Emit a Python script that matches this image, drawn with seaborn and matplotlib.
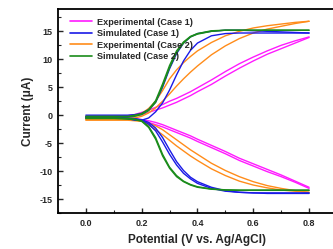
import numpy as np
import pandas as pd
import matplotlib
matplotlib.use("Agg")
import matplotlib.pyplot as plt
from matplotlib.ticker import MultipleLocator
from matplotlib.lines import Line2D
import seaborn as sns

# Potential grid (V vs. Ag/AgCl)
V = [0.0, 0.05, 0.1, 0.15, 0.175, 0.2, 0.225, 0.25, 0.275, 0.3, 0.325, 0.35,
     0.375, 0.4, 0.45, 0.5, 0.55, 0.6, 0.65, 0.7, 0.75, 0.8]

# Experimental (Case 1)
exp1_ox_a = [-0.2, -0.2, -0.2, -0.1, 0.1, 0.5, 0.9, 1.4, 1.9, 2.5, 3.0, 3.6, 4.2, 4.9, 6.3, 7.8, 9.2, 10.4, 11.5, 12.5, 13.3, 14.0]
exp1_ox_b = [-0.4, -0.4, -0.4, -0.3, -0.1, 0.1, 0.5, 0.9, 1.3, 1.8, 2.3, 2.9, 3.5, 4.2, 5.5, 7.0, 8.4, 9.7, 10.9, 11.9, 12.9, 13.9]
exp1_red_a = [-0.4, -0.4, -0.4, -0.5, -0.6, -0.8, -1.0, -1.3, -1.7, -2.2, -2.7, -3.2, -3.7, -4.3, -5.4, -6.5, -7.7, -8.7, -9.7, -10.7, -11.8, -12.9]
exp1_red_b = [-0.6, -0.6, -0.6, -0.7, -0.8, -1.0, -1.3, -1.7, -2.1, -2.6, -3.1, -3.6, -4.1, -4.7, -5.8, -6.9, -8.1, -9.1, -10.1, -11.0, -12.0, -13.1]

# Simulated (Case 1)
sim1_ox_a = [0.0, 0.0, 0.0, 0.0, 0.1, 0.3, 1.0, 2.3, 5.0, 8.3, 11.0, 12.9, 14.0, 14.6, 15.0, 15.2, 15.2, 15.1, 15.0, 14.9, 14.8, 14.7]
sim1_ox_b = [-0.3, -0.3, -0.4, -0.6, -0.9, -0.9, -0.5, 0.6, 2.2, 4.5, 7.2, 9.7, 11.6, 12.9, 14.2, 14.6, 14.7, 14.7, 14.7, 14.7, 14.7, 14.7]
sim1_red_a = [-0.4, -0.4, -0.4, -0.5, -0.6, -0.9, -1.6, -2.8, -4.8, -7.0, -8.9, -10.4, -11.4, -12.2, -13.1, -13.6, -13.8, -13.9, -13.9, -13.9, -13.9, -13.9]
sim1_red_b = [-0.5, -0.5, -0.5, -0.6, -0.7, -0.8, -1.3, -2.3, -4.0, -6.2, -8.3, -9.9, -11.1, -11.9, -12.9, -13.5, -13.8, -13.9, -14.0, -14.0, -14.0, -14.0]

# Experimental (Case 2)
exp2_ox_a = [-0.5, -0.5, -0.5, -0.4, -0.2, 0.3, 1.2, 2.5, 4.4, 6.5, 8.1, 9.4, 10.5, 11.5, 13.0, 14.2, 15.0, 15.6, 16.0, 16.3, 16.6, 16.8]
exp2_ox_b = [-0.7, -0.7, -0.7, -0.6, -0.5, -0.2, 0.4, 1.3, 2.5, 3.8, 5.2, 6.5, 7.7, 8.8, 10.8, 12.4, 13.7, 14.7, 15.4, 15.9, 16.4, 16.8]
exp2_red_a = [-0.8, -0.8, -0.8, -0.8, -0.9, -1.0, -1.4, -1.9, -2.6, -3.5, -4.4, -5.3, -6.2, -7.0, -8.6, -9.9, -11.0, -11.9, -12.6, -13.1, -13.5, -13.8]
exp2_red_b = [-0.9, -0.9, -0.9, -0.9, -1.0, -1.1, -1.7, -2.6, -3.5, -4.5, -5.5, -6.4, -7.3, -8.1, -9.6, -10.8, -11.8, -12.5, -13.0, -13.4, -13.6, -13.8]

# Simulated (Case 2)
sim2_ox_a = [-0.2, -0.2, -0.2, -0.2, 0.0, 0.3, 1.0, 2.6, 5.6, 8.9, 11.5, 13.1, 14.1, 14.6, 15.1, 15.2, 15.2, 15.2, 15.2, 15.2, 15.2, 15.2]
sim2_ox_b = [-0.3, -0.3, -0.3, -0.3, -0.2, 0.1, 0.8, 2.3, 5.2, 8.5, 11.2, 12.9, 14.0, 14.5, 15.0, 15.2, 15.2, 15.2, 15.2, 15.2, 15.2, 15.2]
sim2_red_a = [-0.5, -0.5, -0.5, -0.6, -0.7, -1.0, -2.0, -4.0, -7.0, -9.3, -10.8, -11.8, -12.4, -12.8, -13.2, -13.35, -13.4, -13.4, -13.4, -13.4, -13.4, -13.4]
sim2_red_b = [-0.6, -0.6, -0.6, -0.7, -0.8, -1.1, -2.2, -4.3, -7.3, -9.5, -11.0, -11.9, -12.5, -12.9, -13.25, -13.4, -13.45, -13.45, -13.45, -13.45, -13.45, -13.45]

series_names = ["Experimental (Case 1)", "Simulated (Case 1)",
                "Experimental (Case 2)", "Simulated (Case 2)"]
series_colors = ["#FF1AFF", "#1A1AE6", "#FF8C1A", "#1A8C1A"]
series_curves = [
    [exp1_ox_a, exp1_ox_b, exp1_red_a, exp1_red_b],
    [sim1_ox_a, sim1_ox_b, sim1_red_a, sim1_red_b],
    [exp2_ox_a, exp2_ox_b, exp2_red_a, exp2_red_b],
    [sim2_ox_a, sim2_ox_b, sim2_red_a, sim2_red_b],
]

sns.set_style("white")
plt.rcParams["font.family"] = ["Liberation Sans", "DejaVu Sans"]
plt.rcParams["font.weight"] = "bold"

fig = plt.figure(figsize=(3.33, 2.49), dpi=100)
ax = fig.add_axes([0.174, 0.1446, 0.838, 0.8194])

# draw order: experimental case 1, experimental case 2, simulated case 1, simulated case 2
order = [0, 2, 1, 3]
for i in order:
    for k, curve in enumerate(series_curves[i]):
        sns.lineplot(x=V, y=curve, color=series_colors[i], lw=1.0, sort=False,
                     ax=ax, legend=False, estimator=None)

ax.set_xlim(-0.1, 0.9)
ax.set_ylim(-17.5, 19)
ax.xaxis.set_major_locator(MultipleLocator(0.2))
ax.xaxis.set_minor_locator(MultipleLocator(0.1))
ax.yaxis.set_major_locator(MultipleLocator(5))
ax.yaxis.set_minor_locator(MultipleLocator(2.5))
ax.set_xticks([0.0, 0.2, 0.4, 0.6, 0.8])
ax.set_xticklabels(["0.0", "0.2", "0.4", "0.6", "0.8"])
ax.set_yticks([-15, -10, -5, 0, 5, 10, 15])
ax.set_yticklabels(["-15", "-10", "-5", "0", "5", "10", "15"])
ax.tick_params(axis="both", which="major", direction="in", length=3.5, width=1.0,
               labelsize=6.5, pad=4, bottom=True, left=True)
ax.tick_params(axis="both", which="minor", direction="in", length=2, width=0.8,
               bottom=True, left=True)
for lab in ax.get_xticklabels() + ax.get_yticklabels():
    lab.set_fontweight("bold")
for sp in ax.spines.values():
    sp.set_linewidth(1.3)
    sp.set_color("black")

ax.set_xlabel("Potential (V vs. Ag/AgCl)", fontsize=8.5, fontweight="bold", labelpad=5)
ax.set_ylabel("Current (\u03bcA)", fontsize=8.5, fontweight="bold", labelpad=4)

handles = [Line2D([], [], color=c, lw=1.2) for c in series_colors]
ax.legend(handles, series_names, loc="upper left", bbox_to_anchor=(0.025, 0.985),
          frameon=False, handlelength=2.4, handletextpad=0.45,
          labelspacing=0.28, borderaxespad=0.2, prop={"weight": "bold", "size": 6.6})

fig.savefig("out.png", dpi=100)
